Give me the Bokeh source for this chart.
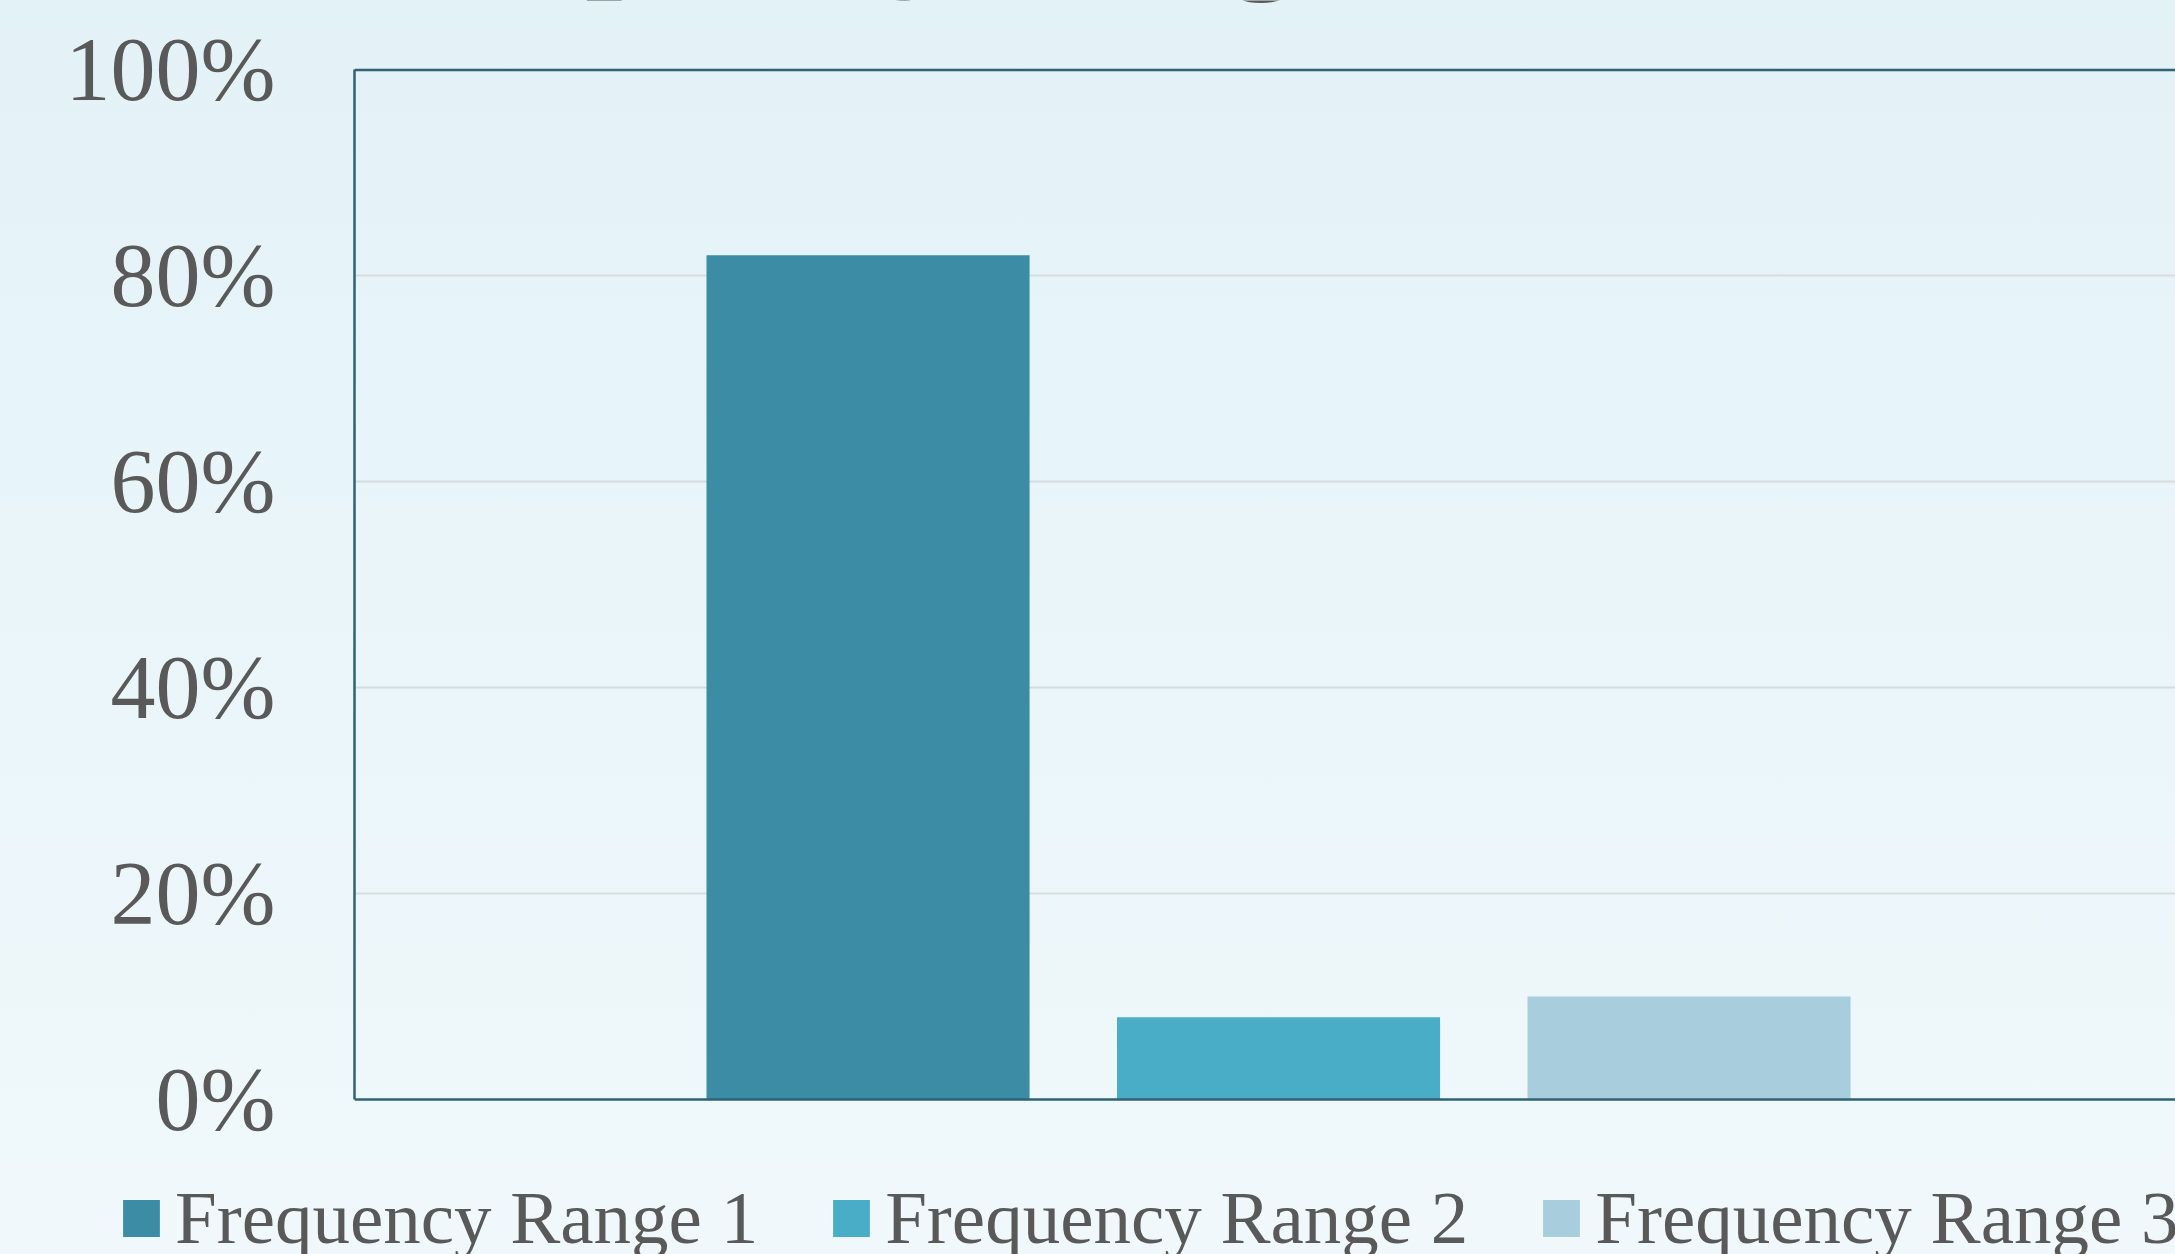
from bokeh.plotting import figure
from bokeh.layouts import column
from bokeh.models import (LinearAxis, FixedTicker, PrintfTickFormatter, Legend,
                          LegendItem, Range1d, Label, Grid, Span)
from bokeh.embed import file_html
from bokeh.resources import INLINE

# ---- data ----
categories = ["Frequency Range 1", "Frequency Range 2", "Frequency Range 3"]
positions = [0, 1, 2]
values = [82, 8, 10]
colors = ["#3c8ca5", "#4aadc7", "#a8cedd"]
y_ticks = [0, 20, 40, 60, 80, 100]
title_text = "Frequency Range Distribution"

TEXT = "#595959"
AXIS = "#2f6275"
FONT = "Liberation Serif"

# ---------------- main chart ----------------
p = figure(width=2175, height=1150, output_backend="svg", toolbar_location=None,
           x_range=Range1d(-1.251, 3.185), y_range=Range1d(-1.068, 106.74),
           min_border_left=354, min_border_right=0, min_border_top=0,
           min_border_bottom=40, x_axis_location=None, y_axis_location=None)
p.frame_align = False
for gr in p.grid:
    gr.visible = False
p.background_fill_alpha = 0
p.border_fill_alpha = 0
p.outline_line_color = None
p.styles = {"background": "linear-gradient(180deg, #e3f2f7 0%, #eff8fb 100%)"}

ya = LinearAxis(ticker=FixedTicker(ticks=y_ticks), bounds=(0, 100),
                formatter=PrintfTickFormatter(format="%d%%"))
ya.axis_line_color = AXIS
ya.axis_line_width = 2.5
ya.major_tick_line_color = None
ya.minor_tick_line_color = None
ya.major_label_text_font = FONT
ya.major_label_text_font_size = "90px"
ya.major_label_text_color = TEXT
ya.major_label_standoff = 73
p.add_layout(ya, "left")

g = Grid(dimension=1, ticker=FixedTicker(ticks=y_ticks[1:-1]))
g.grid_line_color = "#d6dddf"
g.grid_line_width = 2
p.add_layout(g)

for loc in (y_ticks[0], y_ticks[-1]):
    p.add_layout(Span(location=loc, dimension="width", line_color=AXIS,
                      line_width=2.5))

for cat, xpos, val, col in zip(categories, positions, values, colors):
    p.vbar(x=[xpos], top=[val], bottom=0, width=0.787, fill_color=col,
           line_color=None)

title = Label(x=-1.262, y=113.8, text=title_text, text_font=FONT,
              text_font_size="134px", text_font_style="bold",
              text_color=TEXT, text_baseline="alphabetic", text_align="left")
p.add_layout(title)

# ---------------- legend strip ----------------
pl = figure(width=2175, height=104, output_backend="svg", toolbar_location=None,
            x_range=Range1d(0, 1), y_range=Range1d(1000, 1001),
            min_border=0, x_axis_location=None, y_axis_location=None)
pl.frame_align = False
for gr in pl.grid:
    gr.visible = False
pl.background_fill_alpha = 0
pl.border_fill_alpha = 0
pl.outline_line_color = None
pl.styles = {"background": "linear-gradient(180deg, #eff8fb 0%, #f0f8fb 100%)"}

items = []
for cat, xpos, val, col in zip(categories, positions, values, colors):
    r = pl.vbar(x=[xpos], top=[val], bottom=0, width=0.787, fill_color=col,
                line_color=None)
    items.append(LegendItem(label=cat, renderers=[r]))

legend = Legend(items=items, orientation="horizontal", location=(118, -7))
legend.padding = 0
legend.margin = 0
legend.spacing = 70
legend.glyph_width = 46
legend.glyph_height = 46
legend.label_standoff = 11
legend.label_text_font = FONT
legend.label_text_font_size = "75px"
legend.label_text_color = TEXT
legend.border_line_color = None
legend.background_fill_alpha = 0
pl.add_layout(legend)

layout = column(p, pl, spacing=0)
open("out.html", "w").write(file_html(layout, INLINE))
